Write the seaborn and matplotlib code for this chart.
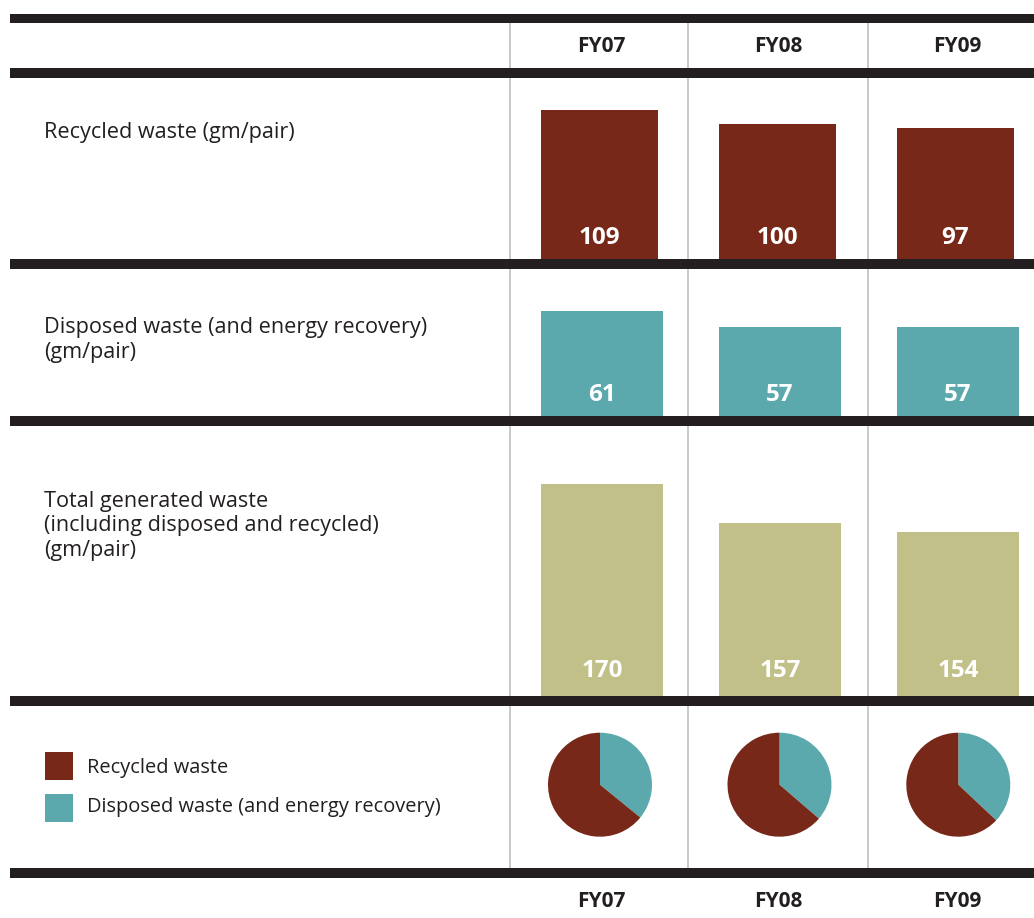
import numpy as np
import pandas as pd
import matplotlib
matplotlib.use("Agg")
import matplotlib.pyplot as plt
import seaborn as sns
from matplotlib.patches import Rectangle

# ---------------- data ----------------
years = ["FY07", "FY08", "FY09"]
recycled = [109, 100, 97]
disposed = [61, 57, 57]
total = [170, 157, 154]

row_labels = [
    ["Recycled waste (gm/pair)"],
    ["Disposed waste (and energy recovery)", "(gm/pair)"],
    ["Total generated waste", "(including disposed and recycled)", "(gm/pair)"],
]
legend_labels = ["Recycled waste", "Disposed waste (and energy recovery)"]

# ---------------- style ----------------
C_REC = "#772818"
C_DIS = "#5BA9AD"
C_TOT = "#C0C088"
DARK = "#231F20"
GRID = "#BBBBBB"

sns.set_style("white")
plt.rcParams['font.family'] = ['Open Sans', 'DejaVu Sans']

W, H = 1034, 918
fig = plt.figure(figsize=(W / 100, H / 100), dpi=100)


def fig_axes(x0, y0, x1, y1):
    """axes placed in pixel coords measured from the top-left corner"""
    return fig.add_axes([x0 / W, 1 - y1 / H, (x1 - x0) / W, (y1 - y0) / H])


bg = fig_axes(0, 0, W, H)
bg.set_xlim(0, W)
bg.set_ylim(H, 0)
bg.axis('off')

# column separators
for x in [509.5, 687.5, 867.5]:
    bg.plot([x, x], [22, 870], color=GRID, lw=1.1, zorder=1)

# thick horizontal rules
rules = [(14, 22.7), (68.3, 77.7), (259, 269), (415.7, 425.7), (695.7, 705.7), (868.3, 877.7)]
for y0, y1 in rules:
    bg.add_patch(Rectangle((10, y0), W - 10, y1 - y0, color=DARK, lw=0, zorder=3))

col_x = [601.5, 778, 957]
for cx, yr in zip(col_x, years):
    bg.text(cx, 51.7, yr, ha='center', va='baseline', fontsize=15,
            fontweight='bold', color=DARK)
    bg.text(cx, 907.3, yr, ha='center', va='baseline', fontsize=15,
            fontweight='bold', color=DARK)

# row labels
row_baselines = [138.3, 333.3, 506.7]
for lines, yb in zip(row_labels, row_baselines):
    for k, line in enumerate(lines):
        bg.text(44, yb + k * 24.5, line, ha='left', va='baseline',
                fontsize=15.6, color=DARK)

# ---------------- bar rows (seaborn) ----------------
STEP = 178.0
rows = [
    # values, color, top px, bottom px, px per unit, baseline value, bar width px, first centre px, label offset px
    (recycled, C_REC, 77.7, 259.0, 1.474, 8.2, 117, 599.5, 15),
    (disposed, C_DIS, 269.0, 415.7, 4.0, 34.8, 122, 602.0, 14.5),
    (total, C_TOT, 425.7, 695.7, 2.979, 99.0, 122, 602.0, 19),
]
for vals, col, top, bot, ppu, v0, wpx, c0, off in rows:
    left = c0 - STEP / 2
    ax = fig_axes(left, top, W, bot)
    df = pd.DataFrame({"year": years, "value": vals})
    sns.barplot(data=df, x="year", y="value", ax=ax, color=col, saturation=1,
                width=wpx / STEP, linewidth=0, errorbar=None)
    ax.set_xlim(-0.5, -0.5 + (W - left) / STEP)
    ax.set_ylim(v0, v0 + (bot - top) / ppu)
    ax.axis('off')
    ax.patch.set_visible(False)
    for i, v in enumerate(vals):
        ax.annotate(str(v), xy=(i, 0), xycoords=('data', 'axes fraction'),
                    xytext=(0, off * 0.72), textcoords='offset points',
                    ha='center', va='baseline', fontsize=17.5,
                    fontweight='bold', color='white')

# ---------------- pies ----------------
pie_x = [600, 779.5, 958.3]
pie_y = 784.7
R = 52
for i, cx in enumerate(pie_x):
    pax = fig_axes(cx - R, pie_y - R, cx + R, pie_y + R)
    pax.pie([disposed[i], recycled[i]], colors=[C_DIS, C_REC], startangle=90,
            counterclock=False, radius=1, wedgeprops=dict(linewidth=0))
    pax.set_xlim(-1, 1)
    pax.set_ylim(-1, 1)

# ---------------- legend ----------------
leg_cols = [C_REC, C_DIS]
leg_tops = [752, 794]
leg_baselines = [773.3, 812.3]
for lab, c, yt, yb in zip(legend_labels, leg_cols, leg_tops, leg_baselines):
    bg.add_patch(Rectangle((45, yt), 28, 28, color=c, lw=0))
    bg.text(87, yb, lab, ha='left', va='baseline', fontsize=14.4, color=DARK)

fig.savefig("out.png", dpi=100)
